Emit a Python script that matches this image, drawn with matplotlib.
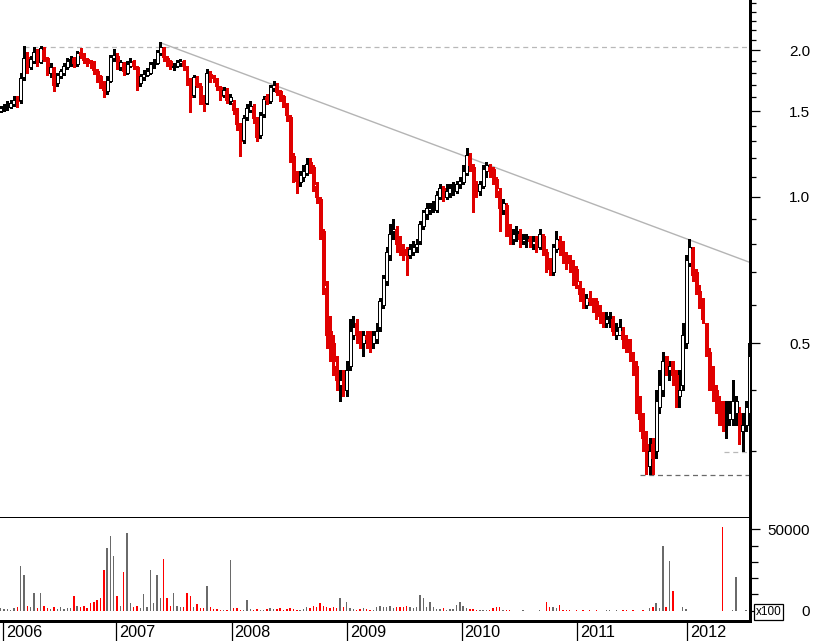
import matplotlib
matplotlib.use('Agg')
import matplotlib.pyplot as plt
from matplotlib import transforms
from matplotlib.ticker import FixedLocator, NullFormatter, NullLocator

plt.rcParams['font.family'] = ['Liberation Sans', 'DejaVu Sans']

# ---------------- data (weekly-ish bars, price in currency, volume in x100 shares) -------------
opens = [
    1.50, 1.52, 1.55, 1.53, 1.55, 1.60, 1.58, 1.76, 1.94, 1.85,
    1.90, 1.99, 1.89, 2.00, 1.93, 1.80, 1.84, 1.71, 1.77, 1.80,
    1.85, 1.91, 1.93, 1.87, 1.98, 1.95, 1.92, 1.88, 1.89, 1.81,
    1.77, 1.71, 1.65, 1.73, 1.93, 1.95, 1.85, 1.88, 1.80, 1.86,
    1.90, 1.85, 1.71, 1.76, 1.78,
    1.80, 1.88, 1.88, 1.97, 2.02, 1.93, 1.90, 1.85, 1.86, 1.88,
    1.90, 1.85, 1.73, 1.62, 1.75, 1.69, 1.58, 1.56, 1.79, 1.76,
    1.74, 1.68, 1.62, 1.65, 1.57, 1.56, 1.50, 1.40, 1.31, 1.46,
    1.51, 1.53, 1.44, 1.34, 1.48, 1.60, 1.57, 1.67, 1.69, 1.65,
    1.61, 1.55, 1.46, 1.21, 1.11,
    1.07, 1.10, 1.12, 1.18, 1.15, 1.05, 0.99, 0.85, 0.65, 0.53,
    0.50, 0.45, 0.41, 0.43, 0.40, 0.45, 0.52, 0.55, 0.52, 0.50,
    0.52, 0.51, 0.50, 0.51, 0.54, 0.60, 0.67, 0.76, 0.85, 0.86,
    0.81, 0.78, 0.77, 0.76, 0.77, 0.79, 0.81, 0.87, 0.92, 0.94,
    0.96, 0.94, 1.00, 1.04, 1.00,
    1.02, 1.05, 1.03, 1.06, 1.07, 1.12, 1.21, 1.15, 1.06, 1.03,
    1.05, 1.13, 1.15, 1.14, 1.09, 1.03, 0.94, 0.96, 0.87, 0.82,
    0.85, 0.84, 0.81, 0.83, 0.82, 0.80, 0.82, 0.79, 0.83, 0.77,
    0.73, 0.70, 0.78, 0.81, 0.80, 0.76, 0.74, 0.72, 0.71, 0.66,
    0.64, 0.60, 0.62, 0.61, 0.61,
    0.59, 0.57, 0.55, 0.57, 0.56, 0.52, 0.52, 0.53, 0.51, 0.50,
    0.47, 0.45, 0.38, 0.35, 0.31, 0.28, 0.31, 0.30, 0.37, 0.40,
    0.47, 0.44, 0.46, 0.43, 0.39, 0.41, 0.50, 0.73, 0.78, 0.70,
    0.64, 0.61, 0.55, 0.48, 0.42, 0.40, 0.38, 0.36, 0.37, 0.35,
    0.35, 0.36, 0.36, 0.33, 0.34, 0.36,
]
highs = [
    1.54, 1.55, 1.57, 1.58, 1.61, 1.61, 1.80, 2.04, 1.98, 1.95,
    2.03, 2.01, 2.04, 2.03, 1.94, 1.88, 1.85, 1.80, 1.83, 1.88,
    1.93, 1.95, 1.94, 1.99, 2.02, 1.97, 1.93, 1.91, 1.90, 1.83,
    1.78, 1.73, 1.77, 1.96, 2.01, 1.97, 1.91, 1.89, 1.90, 1.93,
    1.91, 1.86, 1.79, 1.82, 1.84,
    1.89, 1.92, 2.00, 2.08, 2.03, 1.95, 1.91, 1.88, 1.91, 1.92,
    1.91, 1.86, 1.75, 1.78, 1.77, 1.71, 1.62, 1.83, 1.81, 1.78,
    1.75, 1.69, 1.68, 1.67, 1.63, 1.58, 1.52, 1.42, 1.47, 1.55,
    1.57, 1.55, 1.46, 1.49, 1.61, 1.63, 1.70, 1.73, 1.71, 1.66,
    1.62, 1.56, 1.47, 1.23, 1.13,
    1.13, 1.16, 1.20, 1.20, 1.16, 1.07, 1.00, 0.86, 0.67, 0.57,
    0.52, 0.47, 0.44, 0.44, 0.46, 0.56, 0.57, 0.56, 0.53, 0.53,
    0.53, 0.53, 0.53, 0.55, 0.62, 0.69, 0.79, 0.88, 0.90, 0.87,
    0.83, 0.80, 0.79, 0.80, 0.81, 0.82, 0.89, 0.94, 0.97, 0.97,
    0.98, 1.03, 1.06, 1.05, 1.06,
    1.06, 1.07, 1.08, 1.10, 1.16, 1.26, 1.23, 1.17, 1.08, 1.08,
    1.16, 1.18, 1.17, 1.15, 1.10, 1.04, 0.99, 0.97, 0.88, 0.86,
    0.87, 0.86, 0.84, 0.84, 0.83, 0.83, 0.83, 0.86, 0.84, 0.78,
    0.75, 0.80, 0.85, 0.83, 0.81, 0.77, 0.76, 0.74, 0.72, 0.67,
    0.65, 0.63, 0.64, 0.62, 0.62,
    0.60, 0.58, 0.58, 0.58, 0.57, 0.55, 0.56, 0.54, 0.52, 0.51,
    0.48, 0.46, 0.39, 0.36, 0.33, 0.32, 0.32, 0.40, 0.44, 0.48,
    0.47, 0.46, 0.46, 0.44, 0.44, 0.55, 0.76, 0.82, 0.79, 0.71,
    0.66, 0.62, 0.55, 0.49, 0.45, 0.41, 0.39, 0.38, 0.38, 0.38,
    0.42, 0.39, 0.37, 0.36, 0.38, 0.50,
]
lows = [
    1.49, 1.50, 1.51, 1.52, 1.54, 1.53, 1.56, 1.74, 1.80, 1.83,
    1.88, 1.86, 1.88, 1.90, 1.78, 1.76, 1.65, 1.69, 1.75, 1.78,
    1.83, 1.86, 1.85, 1.86, 1.93, 1.88, 1.86, 1.84, 1.79, 1.72,
    1.67, 1.60, 1.63, 1.72, 1.90, 1.83, 1.82, 1.78, 1.79, 1.85,
    1.83, 1.66, 1.69, 1.74, 1.77,
    1.79, 1.84, 1.87, 1.96, 1.90, 1.86, 1.83, 1.82, 1.85, 1.86,
    1.82, 1.70, 1.49, 1.60, 1.68, 1.55, 1.50, 1.55, 1.72, 1.72,
    1.66, 1.58, 1.60, 1.56, 1.55, 1.48, 1.37, 1.21, 1.29, 1.44,
    1.49, 1.42, 1.30, 1.32, 1.46, 1.55, 1.56, 1.65, 1.62, 1.57,
    1.53, 1.43, 1.18, 1.07, 1.02,
    1.05, 1.08, 1.11, 1.12, 1.03, 0.97, 0.82, 0.63, 0.49, 0.46,
    0.43, 0.40, 0.38, 0.39, 0.39, 0.44, 0.51, 0.50, 0.49, 0.47,
    0.49, 0.48, 0.49, 0.50, 0.53, 0.59, 0.66, 0.74, 0.82, 0.77,
    0.76, 0.74, 0.69, 0.75, 0.76, 0.77, 0.80, 0.86, 0.90, 0.92,
    0.93, 0.93, 0.99, 0.98, 0.99,
    1.00, 1.01, 1.02, 1.04, 1.06, 1.11, 1.13, 0.93, 1.00, 1.01,
    1.04, 1.10, 1.10, 1.06, 1.00, 0.85, 0.92, 0.83, 0.80, 0.80,
    0.81, 0.79, 0.80, 0.79, 0.79, 0.78, 0.77, 0.78, 0.76, 0.70,
    0.69, 0.69, 0.77, 0.76, 0.73, 0.71, 0.70, 0.66, 0.65, 0.61,
    0.59, 0.59, 0.60, 0.58, 0.56,
    0.55, 0.54, 0.54, 0.54, 0.52, 0.51, 0.52, 0.49, 0.48, 0.46,
    0.43, 0.36, 0.33, 0.30, 0.27, 0.27, 0.27, 0.29, 0.36, 0.39,
    0.43, 0.42, 0.41, 0.37, 0.37, 0.40, 0.49, 0.72, 0.67, 0.63,
    0.59, 0.55, 0.47, 0.40, 0.38, 0.36, 0.34, 0.33, 0.32, 0.34,
    0.34, 0.34, 0.31, 0.30, 0.33, 0.35,
]
closes = [
    1.52, 1.53, 1.54, 1.56, 1.58, 1.57, 1.75, 1.93, 1.87, 1.92,
    1.98, 1.90, 2.02, 1.92, 1.81, 1.85, 1.70, 1.78, 1.81, 1.86,
    1.90, 1.92, 1.88, 1.97, 1.96, 1.91, 1.89, 1.88, 1.82, 1.76,
    1.70, 1.66, 1.74, 1.94, 1.96, 1.86, 1.89, 1.81, 1.87, 1.89,
    1.86, 1.72, 1.77, 1.79, 1.81,
    1.87, 1.89, 1.98, 2.03, 1.94, 1.89, 1.86, 1.86, 1.89, 1.90,
    1.86, 1.74, 1.60, 1.76, 1.70, 1.58, 1.55, 1.80, 1.76, 1.75,
    1.69, 1.61, 1.66, 1.58, 1.60, 1.51, 1.41, 1.30, 1.45, 1.52,
    1.54, 1.45, 1.33, 1.47, 1.59, 1.58, 1.68, 1.70, 1.64, 1.60,
    1.56, 1.47, 1.22, 1.10, 1.08,
    1.11, 1.13, 1.17, 1.16, 1.06, 1.00, 0.86, 0.66, 0.52, 0.49,
    0.46, 0.42, 0.42, 0.41, 0.44, 0.53, 0.54, 0.52, 0.51, 0.52,
    0.51, 0.50, 0.52, 0.53, 0.61, 0.68, 0.77, 0.84, 0.86, 0.80,
    0.78, 0.77, 0.76, 0.78, 0.79, 0.80, 0.88, 0.93, 0.95, 0.95,
    0.95, 1.01, 1.04, 1.01, 1.03,
    1.04, 1.04, 1.06, 1.08, 1.13, 1.22, 1.16, 1.05, 1.04, 1.06,
    1.14, 1.16, 1.13, 1.10, 1.04, 0.95, 0.97, 0.86, 0.83, 0.84,
    0.84, 0.82, 0.82, 0.82, 0.81, 0.81, 0.80, 0.84, 0.78, 0.72,
    0.71, 0.79, 0.82, 0.79, 0.75, 0.74, 0.73, 0.70, 0.67, 0.63,
    0.61, 0.62, 0.61, 0.60, 0.58,
    0.57, 0.55, 0.56, 0.56, 0.53, 0.53, 0.54, 0.51, 0.49, 0.48,
    0.46, 0.37, 0.35, 0.32, 0.29, 0.30, 0.29, 0.38, 0.41, 0.46,
    0.45, 0.45, 0.43, 0.40, 0.40, 0.52, 0.74, 0.79, 0.69, 0.65,
    0.60, 0.56, 0.49, 0.41, 0.40, 0.37, 0.35, 0.34, 0.35, 0.36,
    0.38, 0.38, 0.34, 0.34, 0.37, 0.47,
]
volumes = [
    1500, 800, 1000, 600, 1500, 2500, 27500, 22000, 3000, 2000,
    11000, 1500, 11000, 3000, 1500, 1000, 2500, 1000, 2000, 800,
    1500, 1500, 9000, 3000, 2000, 3000, 1500, 4500, 5500, 6500,
    8000, 25000, 38500, 46000, 33500, 9000, 3000, 24000, 48000, 5000,
    2500, 3000, 1500, 10000, 2500, 25000, 5000, 22000, 8000, 32000,
    8000, 3000, 11000, 3000, 2000, 2000, 11000, 9000, 2500, 4000,
    1500, 1500, 15000, 2000, 800, 800, 600, 400, 400, 31000,
    1500, 1500, 500, 600, 6500, 800, 600, 1200, 500, 400,
    1000, 1500, 1200, 800, 1500, 600, 1000, 1500, 800, 400,
    600, 1000, 2500, 1500, 3000, 2000, 5000, 3000, 2500, 1500,
    2000, 1500, 8000, 2500, 5500, 1500, 1000, 600, 800, 1500,
    1000, 400, 400, 2500, 3000, 2500, 2000, 3000, 1500, 2500,
    2500, 2500, 3000, 2500, 1500, 2500, 9500, 8000, 2500, 5500,
    2500, 1000, 800, 1500, 600, 1000, 800, 3500, 5500, 3000,
    1500, 800, 1000, 600, 500, 300, 300, 400, 1500, 2500,
    2000, 600, 400, 300, 0, 0, 0, 300, 0, 0,
    0, 0, 400, 0, 5500, 2500, 2000, 1500, 3500, 400,
    300, 300, 0, 300, 0, 400, 0, 300, 0, 500,
    0, 0, 300, 300, 0, 300, 0, 400, 300, 0,
    300, 0, 0, 300, 0, 1500, 2500, 4500, 1500, 39600,
    2500, 30500, 12000, 0, 0, 2500, 1000, 0, 0, 0,
    0, 0, 0, 0, 0, 0, 0, 51500, 0, 0,
    300, 20700, 0, 0, 300, 0,
]

year_labels = ['2006', '2007', '2008', '2009', '2010', '2011', '2012']
year_positions = [0.6, 34.6, 69.4, 104.0, 138.5, 173.2, 206.2]   # bar index where each year starts

price_ticks = [0.5, 1.0, 1.5, 2.0]
price_tick_labels = ['0.5', '1.0', '1.5', '2.0']
price_minor_ticks = [0.3, 0.4, 0.6, 0.7, 0.8, 0.9, 1.1, 1.2, 1.3, 1.4,
                     1.6, 1.7, 1.8, 1.9, 2.1, 2.2, 2.3, 2.4, 2.5]
vol_ticks = [0, 50000]
vol_tick_labels = ['0', '50000']
vol_minor_ticks = [10000, 20000, 30000, 40000]

resistance_level = 2.03      # dotted level of the 2006 high
resistance_start = 7
support_level = 0.268        # dashed level of the 2011 low
support_start = 192
recent_low_level = 0.2985
recent_low_start = 217.5
trend_start_idx, trend_start_price = 48, 2.073
trend_end_price = 0.733      # value of the trend line at the right edge

# ---------------- figure ---------------------------------------------------
W, H = 817, 641
fig = plt.figure(figsize=(W / 100, H / 100), dpi=100)
fig.patch.set_facecolor('white')

axw = 750 / W
ax = fig.add_axes([0, (H - 518) / H, axw, 518 / H])
axv = fig.add_axes([0, (H - 621) / H, axw, (621 - 518) / H], sharex=ax)

n = len(closes)
xs = list(range(n))
x_lo, x_hi = -0.2, 225.2

RED = '#e00000'
BLK = '#000000'
cols = []
for i in range(n):
    down = i > 0 and closes[i] < closes[i - 1]
    cols.append(RED if down else BLK)

# wicks
ax.vlines(xs, lows, highs, colors=cols, linewidth=0.75, antialiased=False, zorder=2)
# bodies
bottoms = [min(o, c) for o, c in zip(opens, closes)]
heights = [max(abs(c - o), 0.004 * min(o, c)) for o, c in zip(opens, closes)]
faces = ['white' if c > o else col for o, c, col in zip(opens, closes, cols)]
ax.bar(xs, heights, bottom=bottoms, width=0.9, color=faces, edgecolor=cols,
       linewidth=0.72, antialiased=False, zorder=3)

ax.set_yscale('log')
ax.set_ylim(0.2188, 2.537)
ax.set_xlim(x_lo, x_hi)

# reference lines
ax.plot([resistance_start, x_hi], [resistance_level, resistance_level], color='#b8b8b8',
        linewidth=0.9, linestyle=(0, (4, 3)), zorder=1)
ax.plot([support_start, x_hi], [support_level, support_level], color='#6a6a6a',
        linewidth=0.9, linestyle=(0, (4, 3)), zorder=1)
ax.plot([recent_low_start, x_hi], [recent_low_level, recent_low_level], color='#b8b8b8',
        linewidth=0.9, linestyle=(0, (4, 3)), zorder=1)
ax.plot([trend_start_idx, x_hi], [trend_start_price, trend_end_price], color='#b4b4b4',
        linewidth=1.0, zorder=1)

# axes styling main
for s in ['top', 'left']:
    ax.spines[s].set_visible(False)
for s in ['right', 'bottom']:
    ax.spines[s].set_linewidth(1.0)
    ax.spines[s].set_antialiased(False)
    ax.spines[s].set_color('black')
ax.yaxis.tick_right()
ax.yaxis.set_major_locator(FixedLocator(price_ticks))
ax.yaxis.set_minor_locator(FixedLocator(price_minor_ticks))
ax.yaxis.set_major_formatter(NullFormatter())
ax.yaxis.set_minor_formatter(NullFormatter())
ax.tick_params(axis='y', which='major', length=7.4, width=0.9, direction='out', right=True, left=False)
ax.tick_params(axis='y', which='minor', length=4.3, width=0.9, direction='out', right=True, left=False)
ax.tick_params(axis='x', which='both', bottom=False, top=False, labelbottom=False)

ytrans = transforms.blended_transform_factory(ax.transAxes, ax.transData)
ytrans = transforms.offset_copy(ytrans, fig=fig, x=0, y=-5.5, units='dots')
for v, lbl in zip(price_ticks, price_tick_labels):
    ax.text(810 / 750, v, lbl, transform=ytrans, ha='right', va='baseline', fontsize=11, color='black')

# ---------------- volume panel -----------------------------------------------
vcols = ['#ff0000' if c == RED else '#6a6a6a' for c in cols]
axv.bar(xs, volumes, width=0.42, color=vcols, linewidth=0, antialiased=False)
axv.set_ylim(-6327, 56941)
axv.set_xlim(x_lo, x_hi)
axv.spines['top'].set_visible(False)
axv.spines['left'].set_visible(False)
for s in ['right', 'bottom']:
    axv.spines[s].set_linewidth(1.0)
    axv.spines[s].set_antialiased(False)
axv.yaxis.tick_right()
axv.yaxis.set_major_locator(FixedLocator(vol_ticks))
axv.yaxis.set_minor_locator(FixedLocator(vol_minor_ticks))
axv.yaxis.set_major_formatter(NullFormatter())
axv.yaxis.set_minor_formatter(NullFormatter())
axv.tick_params(axis='y', which='major', length=7.4, width=0.9, right=True, left=False)
axv.tick_params(axis='y', which='minor', length=5.8, width=0.9, right=True, left=False)

vtrans = transforms.blended_transform_factory(axv.transAxes, axv.transData)
vtrans = transforms.offset_copy(vtrans, fig=fig, x=0, y=-5.5, units='dots')
for v, lbl in zip(vol_ticks, vol_tick_labels):
    axv.text(810 / 750, v, lbl, transform=vtrans, ha='right', va='baseline', fontsize=11, color='black')

axv.xaxis.set_major_locator(FixedLocator(year_positions))
axv.xaxis.set_minor_locator(NullLocator())
axv.xaxis.set_major_formatter(NullFormatter())
axv.tick_params(axis='x', which='major', length=14.4, width=0.9, direction='out', bottom=True)
xtrans = transforms.blended_transform_factory(axv.transData, axv.transAxes)
xtrans = transforms.offset_copy(xtrans, fig=fig, x=3, y=-16, units='dots')
for p, lbl in zip(year_positions, year_labels):
    axv.text(p, 0, lbl, transform=xtrans, ha='left', va='baseline', fontsize=11.7, color='black')

# multiplier box
fig.text(768.5 / W, 1 - 612 / H, 'x100', ha='center', va='center', fontsize=8.5,
         bbox=dict(boxstyle='square,pad=0.15', facecolor='white', edgecolor='black', linewidth=0.9))

fig.savefig('out.png', dpi=100, facecolor='white')
